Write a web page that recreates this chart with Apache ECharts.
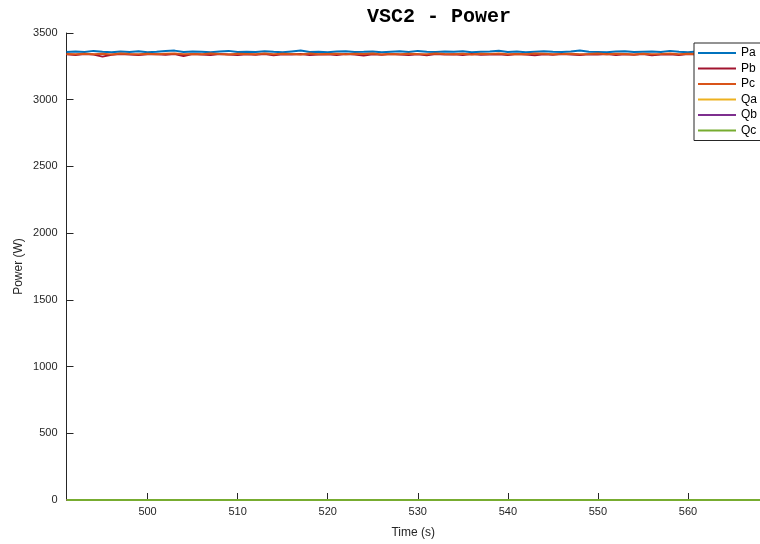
<!DOCTYPE html>
<html>
<head>
<meta charset="utf-8">
<title>VSC2 - Power</title>
<script src="https://cdn.jsdelivr.net/npm/echarts@6/dist/echarts.min.js"></script>
<style>
  html, body { margin: 0; padding: 0; background: #ffffff; }
  #chart { width: 760px; height: 544px; }
</style>
</head>
<body>
<div id="chart"></div>
<script>
// Sample times: one sample per second starting at tStart
const tStart = 491;
const tStep = 1;

// Active power per phase (W)
const Pa = [
  3358,3362,3357,3366,3360,3355,3361,3358,3363,3356,
  3360,3365,3368,3357,3362,3360,3355,3361,3366,3358,
  3360,3357,3363,3359,3356,3362,3368,3358,3360,3355,
  3361,3364,3357,3359,3362,3356,3360,3363,3358,3366,
  3360,3357,3361,3359,3364,3356,3360,3362,3367,3358,
  3361,3356,3360,3363,3359,3357,3362,3369,3360,3358,
  3355,3361,3364,3357,3360,3362,3358,3366,3359,3356,
  3361,3360,3363,3357,3360,3368,3359,3355
];
const Pb = [
  3341,3336,3342,3338,3323,3337,3343,3339,3335,3341,
  3340,3337,3343,3328,3342,3338,3336,3343,3339,3335,
  3341,3337,3342,3334,3340,3338,3343,3336,3339,3341,
  3335,3342,3338,3331,3340,3337,3343,3339,3336,3341,
  3334,3342,3338,3340,3335,3343,3337,3339,3341,3336,
  3342,3338,3333,3340,3337,3343,3339,3335,3341,3338,
  3342,3336,3340,3337,3343,3334,3339,3341,3336,3342,
  3338,3340,3335,3341,3337,3339,3342,3336
];
const Pc = [
  3343,3340,3345,3341,3344,3339,3346,3342,3340,3345,
  3341,3344,3347,3340,3343,3341,3346,3342,3339,3345,
  3343,3341,3347,3340,3344,3342,3339,3346,3341,3343,
  3345,3340,3344,3342,3347,3339,3343,3341,3345,3342,
  3340,3346,3343,3341,3344,3339,3345,3342,3347,3340,
  3343,3341,3346,3344,3340,3342,3345,3341,3343,3347,
  3340,3344,3342,3339,3345,3341,3343,3346,3340,3344,
  3342,3345,3341,3343,3339,3346,3342,3344
];
// Reactive power per phase (W)
const Qa = [
  0,0,0,0,0,0,0,0,0,0, 0,0,0,0,0,0,0,0,0,0,
  0,0,0,0,0,0,0,0,0,0, 0,0,0,0,0,0,0,0,0,0,
  0,0,0,0,0,0,0,0,0,0, 0,0,0,0,0,0,0,0,0,0,
  0,0,0,0,0,0,0,0,0,0, 0,0,0,0,0,0,0,0
];
const Qb = [
  0,0,0,0,0,0,0,0,0,0, 0,0,0,0,0,0,0,0,0,0,
  0,0,0,0,0,0,0,0,0,0, 0,0,0,0,0,0,0,0,0,0,
  0,0,0,0,0,0,0,0,0,0, 0,0,0,0,0,0,0,0,0,0,
  0,0,0,0,0,0,0,0,0,0, 0,0,0,0,0,0,0,0
];
const Qc = [
  0,0,0,0,0,0,0,0,0,0, 0,0,0,0,0,0,0,0,0,0,
  0,0,0,0,0,0,0,0,0,0, 0,0,0,0,0,0,0,0,0,0,
  0,0,0,0,0,0,0,0,0,0, 0,0,0,0,0,0,0,0,0,0,
  0,0,0,0,0,0,0,0,0,0, 0,0,0,0,0,0,0,0
];

const seriesNames = ['Pa', 'Pb', 'Pc', 'Qa', 'Qb', 'Qc'];
const seriesValues = [Pa, Pb, Pc, Qa, Qb, Qc];
const seriesColors = ['#0072BD', '#A2142F', '#D95319', '#EDB120', '#7E2F8E', '#77AC30'];

const xTicks = [500, 510, 520, 530, 540, 550, 560];
const yTicks = [0, 500, 1000, 1500, 2000, 2500, 3000, 3500];

const axisColor = '#262626';
const labelFont = 'Liberation Sans, Arial, sans-serif';

const chart = echarts.init(document.getElementById('chart'), null, { renderer: 'canvas' });

const series = seriesNames.map((name, k) => ({
  name: name,
  type: 'line',
  symbol: 'none',
  animation: false,
  clip: true,
  lineStyle: { color: seriesColors[k], width: 2 },
  itemStyle: { color: seriesColors[k] },
  data: seriesValues[k].map((v, i) => [tStart + i * tStep, v])
}));

chart.setOption({
  backgroundColor: '#ffffff',
  animation: false,
  title: {
    text: 'VSC2 - Power',
    left: 434,
    textAlign: 'center',
    top: 2,
    textStyle: {
      fontFamily: 'Liberation Mono, Courier New, monospace',
      fontWeight: 'bold',
      fontSize: 20,
      color: '#000000'
    }
  },
  legend: {
    orient: 'vertical',
    left: 694,
    top: 43,
    padding: [3, 6, 3, 4],
    icon: 'rect',
    itemWidth: 38,
    itemHeight: 2,
    itemGap: 1.5,
    backgroundColor: '#ffffff',
    borderColor: axisColor,
    borderWidth: 1,
    borderRadius: 0,
    data: seriesNames,
    textStyle: { fontFamily: labelFont, fontSize: 12, lineHeight: 14, color: '#000000' }
  },
  grid: { left: 66.5, right: 0, top: 33, bottom: 44, containLabel: false },
  xAxis: {
    type: 'value',
    min: 491,
    max: 568,
    name: 'Time (s)',
    nameLocation: 'middle',
    nameGap: 27,
    nameTextStyle: { fontFamily: labelFont, fontSize: 12, color: axisColor },
    axisLine: { show: true, lineStyle: { color: axisColor, width: 1 } },
    axisTick: { show: true, inside: true, length: 7, customValues: xTicks, lineStyle: { color: axisColor } },
    axisLabel: { customValues: xTicks, margin: 6, fontFamily: labelFont, fontSize: 11, color: axisColor,
      formatter: v => String(v) },
    splitLine: { show: false }
  },
  yAxis: {
    type: 'value',
    min: 0,
    max: 3500,
    interval: 500,
    name: 'Power (W)',
    nameLocation: 'middle',
    nameRotate: 90,
    nameGap: 42,
    nameMoveOverlap: false,
    nameTextStyle: { fontFamily: labelFont, fontSize: 12, color: axisColor },
    axisLine: { show: true, lineStyle: { color: axisColor, width: 1 } },
    axisTick: { show: true, inside: true, length: 7, customValues: yTicks, lineStyle: { color: axisColor } },
    axisLabel: { customValues: yTicks, margin: 9, fontFamily: labelFont, fontSize: 11, color: axisColor,
      formatter: v => String(v) },
    splitLine: { show: false }
  },
  series: series
});
</script>
</body>
</html>
